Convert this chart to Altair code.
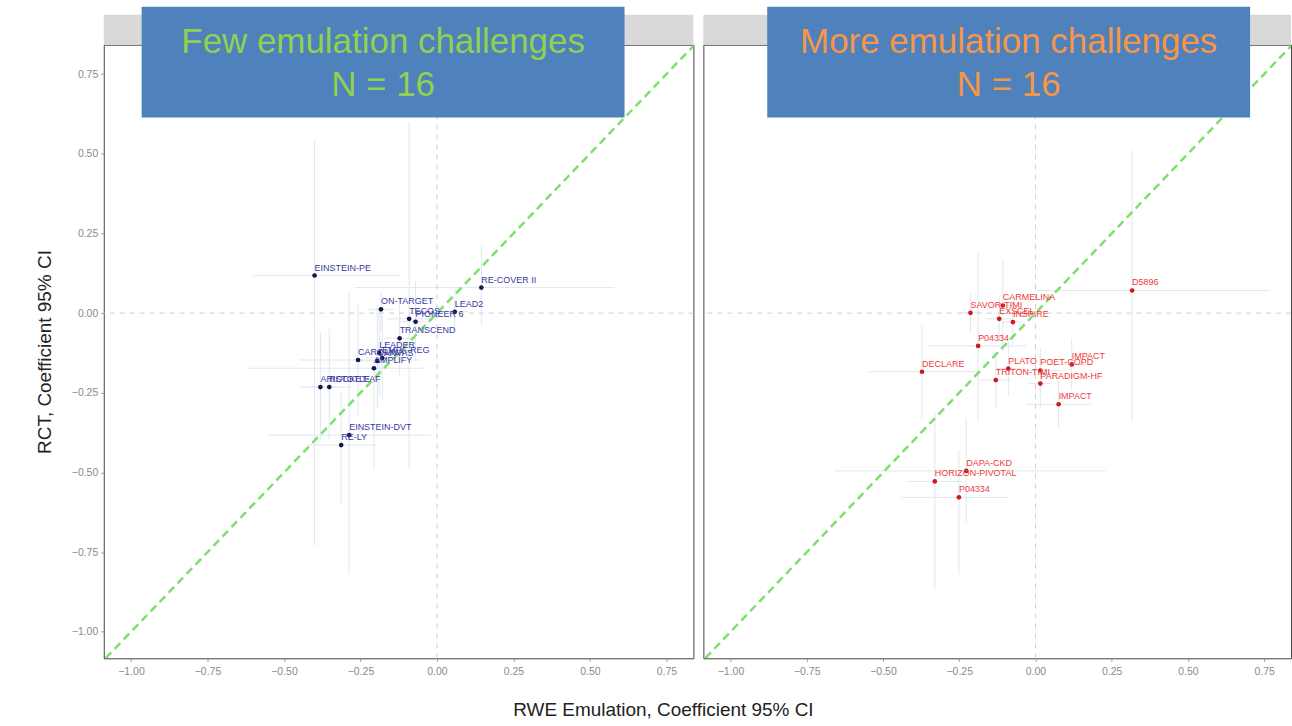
import altair as alt
import pandas as pd

# ---------------- data ----------------
left_names = ["EINSTEIN-PE", "RE-COVER II", "ON-TARGET", "LEAD2", "TECOS", "PIONEER 6",
              "TRANSCEND", "LEADER", "EMPA-REG", "CANVAS", "CAROLINA", "AMPLIFY",
              "ARISTOTLE", "ROCKET-AF", "EINSTEIN-DVT", "RE-LY"]
left_x = [-0.400, 0.145, -0.183, 0.058, -0.091, -0.070, -0.122, -0.189, -0.179, -0.195,
          -0.258, -0.206, -0.381, -0.352, -0.287, -0.313]
left_y = [0.118, 0.080, 0.012, 0.004, -0.018, -0.027, -0.079, -0.125, -0.141, -0.150,
          -0.147, -0.173, -0.232, -0.232, -0.383, -0.414]
left_xlo = [-0.60, -0.27, -0.23, 0.02, -0.16, -0.12, -0.17, -0.24, -0.23, -0.25,
            -0.45, -0.62, -0.45, -0.42, -0.55, -0.42]
left_xhi = [-0.12, 0.58, -0.14, 0.10, -0.02, -0.02, -0.07, -0.14, -0.13, -0.14,
            -0.06, -0.04, -0.31, -0.28, -0.02, -0.20]
left_ylo = [-0.73, -0.04, -0.06, -0.05, -0.49, -0.15, -0.20, -0.26, -0.27, -0.30,
            -0.32, -0.49, -0.40, -0.40, -0.82, -0.60]
left_yhi = [0.54, 0.21, 0.07, 0.08, 0.60, 0.10, 0.05, 0.01, -0.01, 0.02,
            0.03, -0.15, -0.06, -0.05, 0.07, -0.25]

right_names = ["D5896", "SAVOR-TIMI", "CARMELINA", "EXSCEL", "INSPIRE", "P04334",
               "DECLARE", "PLATO", "TRITON-TIMI", "POET-COPD", "PARADIGM-HF", "IMPACT",
               "IMPACT", "DAPA-CKD", "HORIZON-PIVOTAL", "P04334"]
right_x = [0.317, -0.213, -0.107, -0.119, -0.074, -0.188, -0.372, -0.089, -0.130, 0.016,
           0.016, 0.119, 0.076, -0.227, -0.330, -0.251]
right_y = [0.071, 0.001, 0.024, -0.018, -0.028, -0.103, -0.184, -0.174, -0.210, -0.180,
           -0.221, -0.161, -0.286, -0.495, -0.528, -0.578]
right_xlo = [0.00, -0.25, -0.15, -0.16, -0.11, -0.35, -0.55, -0.13, -0.18, -0.05,
             -0.02, 0.05, -0.03, -0.66, -0.42, -0.44]
right_xhi = [0.77, -0.18, -0.06, -0.08, -0.04, -0.03, -0.19, -0.05, -0.08, 0.08,
             0.05, 0.19, 0.18, 0.23, -0.24, -0.09]
right_ylo = [-0.34, -0.06, -0.12, -0.09, -0.10, -0.34, -0.33, -0.26, -0.30, -0.25,
             -0.30, -0.24, -0.36, -0.66, -0.87, -0.82]
right_yhi = [0.51, 0.06, 0.17, 0.05, 0.05, 0.19, -0.04, -0.09, -0.12, -0.11,
             -0.14, -0.08, -0.21, -0.33, -0.31, -0.43]

tick_values = [-1.00, -0.75, -0.50, -0.25, 0.00, 0.25, 0.50, 0.75]
x_domain = [-1.089, 0.838]
y_domain = [-1.083, 0.842]
diag = [-1.2, 1.0]

W_LEFT = 591
W_RIGHT = 589
H = 615


def panel(names, xs, ys, xlo, xhi, ylo, yhi, pt_color, lbl_color, heading, heading_color,
          box_x, box_x2, show_y, width):
    df = pd.DataFrame(dict(name=names, x=xs, y=ys, xlo=xlo, xhi=xhi, ylo=ylo, yhi=yhi))
    xsc = alt.Scale(domain=x_domain, nice=False, zero=False)
    ysc = alt.Scale(domain=y_domain, nice=False, zero=False)
    xax = alt.Axis(values=tick_values, format=".2f", title=None, grid=False, domain=False,
                   tickSize=3, tickColor="#999", labelColor="#8a8a8a", labelFontSize=10.5,
                   labelFont="Liberation Sans", labelPadding=5)
    if show_y:
        yax = alt.Axis(values=tick_values, format=".2f", title="RCT, Coefficient 95% CI",
                       grid=False, domain=False, tickSize=3, tickColor="#999",
                       labelColor="#8a8a8a", labelFontSize=10.5,
                       labelFont="Liberation Sans",
                       labelPadding=3, titleFont="Liberation Sans", titleFontSize=19,
                       titleFontWeight="normal", titleColor="#222", titlePadding=17)
    else:
        yax = None

    def X(f):
        return alt.X(f, type="quantitative", scale=xsc, axis=xax)

    def Y(f):
        return alt.Y(f, type="quantitative", scale=ysc, axis=yax)

    base = alt.Chart(df)
    hbar = base.mark_rule(color="#dfe7f0", strokeWidth=1, clip=True).encode(
        x=X("xlo"), x2="xhi:Q", y=Y("y"))
    vbar = base.mark_rule(color="#dfe7f0", strokeWidth=1, clip=True).encode(
        x=X("x"), y=Y("ylo"), y2="yhi:Q")
    zdf = pd.DataFrame({"v": [0.0]})
    vz = alt.Chart(zdf).mark_rule(color="#d0d0d0", strokeDash=[5, 5], strokeWidth=1).encode(x=X("v"))
    hz = alt.Chart(zdf).mark_rule(color="#d0d0d0", strokeDash=[5, 5], strokeWidth=1).encode(y=Y("v"))
    ddf = pd.DataFrame({"d": diag})
    dline = alt.Chart(ddf).mark_line(color="#7ddf6c", strokeDash=[8, 5], strokeWidth=2.5,
                                     clip=True).encode(x=X("d"), y=Y("d"))
    pts = base.mark_circle(color=pt_color, size=22, opacity=1).encode(x=X("x"), y=Y("y"))
    lbl = base.mark_text(color=lbl_color, fontSize=9, font="Liberation Sans", align="left",
                         baseline="bottom", dy=-3).encode(x=X("x"), y=Y("y"), text="name:N")
    one = pd.DataFrame({"a": [0]})
    strip = alt.Chart(one).mark_rect(color="#d9d9d9").encode(
        x=alt.value(0), x2=alt.value(width), y=alt.value(-30), y2=alt.value(0))
    box = alt.Chart(one).mark_rect(color="#4f81bd").encode(
        x=alt.value(box_x), x2=alt.value(box_x2), y=alt.value(-38), y2=alt.value(73))
    cx = (box_x + box_x2) / 2
    t1 = alt.Chart(one).mark_text(text=heading, color=heading_color, fontSize=35,
                                  font="Liberation Sans", align="center",
                                  baseline="middle").encode(x=alt.value(cx), y=alt.value(-3))
    t2 = alt.Chart(one).mark_text(text="N = 16", color=heading_color, fontSize=35,
                                  font="Liberation Sans", align="center",
                                  baseline="middle").encode(x=alt.value(cx), y=alt.value(40))
    return alt.layer(hbar, vbar, vz, hz, dline, pts, lbl, strip, box, t1, t2).properties(
        width=width, height=H)


left = panel(left_names, left_x, left_y, left_xlo, left_xhi, left_ylo, left_yhi,
             "#16164f", "#3838a0", "Few emulation challenges", "#92d050",
             38, 522, True, W_LEFT)
right = panel(right_names, right_x, right_y, right_xlo, right_xhi, right_ylo, right_yhi,
              "#cc1a1f", "#f03a3a", "More emulation challenges", "#f79646",
              64, 548, False, W_RIGHT)

chart = alt.hconcat(left, right, spacing=8).properties(
    title=alt.TitleParams("RWE Emulation, Coefficient 95% CI", orient="bottom",
                          anchor="middle", font="Liberation Sans", fontSize=19,
                          fontWeight="normal", color="#222", offset=24),
    padding={"left": 34, "top": 5, "right": 0, "bottom": 2},
    background="white",
).configure_view(stroke="#444", strokeWidth=1)

chart.save("out.html", embed_options={"renderer": "svg", "actions": False})
